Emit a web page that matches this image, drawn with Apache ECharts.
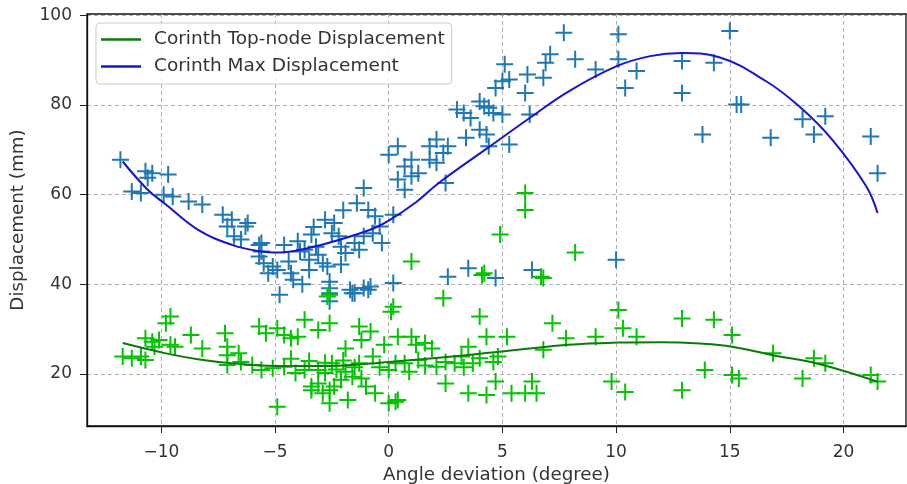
<!DOCTYPE html>
<html>
<head>
<meta charset="utf-8">
<script src="https://cdn.jsdelivr.net/npm/echarts@6.0.0/dist/echarts.min.js"></script>
<style>
  html, body { margin: 0; padding: 0; background: #fff; }
  #chart { width: 907px; height: 484px; }
</style>
</head>
<body>
<div id="chart"></div>
<script>
// tick values on both axes
const xTicks = [-10, -5, 0, 5, 10, 15, 20]
const yTicks = [20, 40, 60, 80, 100]

// Corinth Max Displacement samples (angle deviation, mm)
const maxPoints = [
  [-11.8, 67.8], [-10.7, 65.2], [-10.4, 64.8], [-9.7, 64.5], [-10.6, 63.8], [-11.3, 60.7], [-10.9, 60.4],
  [-9.9, 60.0], [-9.5, 59.6], [-8.8, 58.5], [-8.2, 57.8], [-7.3, 55.5], [-6.9, 54.4], [-7.1, 52.9],
  [-6.2, 53.7], [-6.8, 50.7], [-5.7, 48.8], [-5.6, 47.3], [-6.5, 50.0], [-5.6, 49.2], [-5.7, 46.2],
  [-5.5, 44.7], [-5.1, 44.0], [-4.9, 43.2], [-5.3, 42.5], [-4.8, 37.7], [-4.4, 45.1], [-4.3, 42.5],
  [-4.0, 49.6], [-3.7, 47.7], [-3.5, 45.5], [-3.5, 43.2], [-3.1, 46.6], [-2.9, 44.7], [-2.7, 44.0],
  [-2.6, 40.6], [-2.6, 39.1], [-2.1, 44.4], [-2.8, 54.4], [-2.4, 53.7], [-2.5, 51.4], [-2.2, 50.7],
  [-2.1, 48.4], [-1.9, 47.0], [-1.7, 38.8], [-1.5, 38.0], [-1.1, 39.2], [-0.8, 39.5], [-1.5, 49.2],
  [-1.3, 47.7], [-1.1, 50.7], [-1.4, 58.1], [-1.1, 61.5], [-0.9, 56.6], [-0.6, 55.2], [-0.4, 52.9],
  [-0.3, 49.2], [-0.7, 51.4], [0.2, 40.3], [0.2, 55.5], [0.4, 63.4], [0.7, 61.1], [1.0, 64.1],
  [1.3, 64.8], [-6.3, 52.9], [-3.4, 51.1], [-3.2, 48.4], [-3.9, 47.3], [-2.0, 56.5], [-3.3, 52.8],
  [-4.6, 48.8], [-4.2, 41.0], [-3.8, 40.0], [0.0, 68.9], [0.4, 70.8], [0.7, 66.3], [1.0, 67.8],
  [1.8, 70.8], [2.1, 72.3], [2.4, 69.3], [2.6, 70.8], [1.8, 67.8], [2.1, 67.1], [2.5, 62.6],
  [3.0, 79.0], [3.3, 78.2], [3.6, 77.1], [3.4, 72.7], [4.0, 80.8], [4.2, 79.7], [4.4, 79.4],
  [4.6, 78.2], [4.0, 74.5], [4.3, 73.4], [4.4, 70.8], [5.3, 71.2], [5.0, 77.9], [4.7, 83.8],
  [5.0, 85.3], [5.1, 89.1], [5.3, 85.7], [6.0, 82.7], [6.1, 86.8], [6.2, 77.9], [6.8, 86.1],
  [6.9, 89.4], [7.1, 91.3], [7.7, 96.1], [10.1, 95.8], [15.0, 96.5], [8.2, 90.2], [9.1, 87.9],
  [10.1, 90.2], [10.9, 87.6], [10.4, 83.8], [12.9, 89.8], [12.9, 82.7], [14.3, 89.4], [15.3, 80.1],
  [15.5, 80.1], [13.8, 73.4], [16.8, 72.7], [18.2, 76.8], [19.2, 77.5], [18.7, 73.4], [21.2, 73.0],
  [21.5, 64.8], [2.6, 41.7], [3.5, 43.6], [4.7, 41.4], [6.3, 43.2], [10.0, 45.5], [-1.6, 38.0],
  [-2.6, 38.0], [-2.6, 36.2], [-0.9, 38.8]
]

// Corinth Top-node Displacement samples (angle deviation, mm)
const topPoints = [
  [-11.7, 23.9], [-11.3, 23.5], [-10.9, 23.9], [-10.7, 23.1], [-10.7, 28.0], [-10.4, 27.2], [-10.1, 27.6],
  [-10.3, 26.1], [-9.8, 31.3], [-9.6, 32.8], [-9.6, 26.5], [-9.4, 26.1], [-8.7, 28.7], [-8.2, 25.7],
  [-7.2, 29.1], [-7.1, 26.1], [-7.1, 24.2], [-6.6, 24.6], [-7.1, 22.0], [-6.5, 22.7], [-5.7, 30.6],
  [-5.4, 29.1], [-4.9, 30.2], [-4.6, 28.7], [-4.3, 28.0], [-4.0, 28.3], [-3.7, 32.1], [-3.1, 29.8],
  [-6.0, 22.0], [-5.6, 20.9], [-5.1, 21.3], [-4.9, 12.7], [-4.6, 21.6], [-4.1, 20.2], [-3.7, 20.9],
  [-3.4, 16.4], [-3.1, 17.9], [-2.8, 20.2], [-2.6, 31.3], [-1.3, 30.6], [-0.8, 29.5], [-1.2, 27.6],
  [-0.2, 26.5], [0.4, 28.3], [0.1, 33.9], [1.0, 45.1], [2.4, 36.9], [4.0, 32.8], [4.1, 42.1],
  [4.3, 28.3], [4.9, 51.1], [5.2, 28.3], [6.7, 41.7], [7.2, 31.3], [1.2, 26.5], [1.6, 26.9],
  [1.9, 25.7], [3.5, 26.1], [4.8, 23.9], [6.8, 25.4], [2.5, 17.9], [3.5, 15.7], [4.3, 15.3],
  [4.7, 18.3], [5.4, 15.7], [6.0, 15.7], [6.3, 18.3], [6.5, 15.7], [0.3, 13.8], [0.0, 13.5],
  [0.4, 14.2], [-2.6, 13.5], [-1.8, 14.2], [-3.4, 17.2], [-2.9, 15.7], [-2.4, 17.2], [-2.1, 18.7],
  [-1.6, 19.4], [-1.0, 17.2], [-0.6, 15.7], [-1.3, 22.4], [-0.7, 23.9], [-1.9, 25.7], [-2.5, 22.4],
  [-3.1, 20.9], [0.7, 22.4], [1.3, 23.1], [2.1, 21.6], [2.5, 22.7], [2.9, 22.4], [3.2, 23.9],
  [3.7, 22.4], [4.0, 23.5], [4.6, 22.7], [0.0, 20.9], [0.3, 22.4], [-2.6, 16.4], [-2.3, 21.0],
  [-1.9, 20.5], [-1.5, 21.5], [-2.0, 23.0], [-2.8, 22.5], [-1.2, 19.0], [-0.4, 21.5], [0.9, 20.5],
  [1.6, 21.9], [3.3, 21.5], [-3.5, 22.9], [-4.3, 23.4], [6.0, 60.4], [6.0, 56.6], [4.2, 42.5],
  [6.8, 41.4], [8.2, 47.1], [10.1, 34.3], [10.3, 30.2], [10.9, 28.3], [9.1, 28.3], [7.8, 28.0],
  [12.9, 32.4], [14.3, 32.1], [15.1, 28.7], [16.9, 24.6], [18.7, 23.5], [19.2, 22.4], [21.2, 19.8],
  [21.5, 18.3], [18.2, 19.0], [15.1, 19.8], [15.4, 19.0], [13.9, 20.9], [12.9, 16.4], [9.8, 18.3],
  [10.4, 16.0], [1.0, 28.3], [-2.7, 37.3], [0.2, 35.0], [-2.6, 37.7]
]

// fitted curves
const maxFit = [
  [-11.7, 67.4], [-10.6, 61.1], [-9.8, 57.8], [-8.4, 52.2], [-6.9, 48.8], [-5.7, 47.4], [-4.8, 47.1],
  [-3.7, 47.9], [-2.2, 49.9], [-0.7, 52.4], [0, 54.2], [1.2, 58.3], [2.2, 62.6], [4.4, 70.6],
  [6.2, 77.1], [7.9, 83.0], [10.0, 88.6], [11.5, 90.9], [12.9, 91.6], [14.5, 90.7], [16.6, 85.3],
  [18.05, 79.7], [19.5, 72.3], [21.0, 61.9], [21.5, 55.9]
]
const topFit = [
  [-11.7, 26.9], [-9.8, 24.6], [-8.4, 23.3], [-6.9, 22.4], [-5.0, 21.8], [-2.6, 21.8], [0, 22.7],
  [3.4, 24.2], [7.9, 26.5], [10.0, 27.0], [12.0, 27.1], [13.7, 26.8], [15.1, 26.1], [16.9, 24.2],
  [18.8, 22.4], [21.5, 18.3]
]

const plus = 'path://M7.5,0h2v17h-2z M0,7.5h17v2h-17z'
const font = 'DejaVu Sans'
const minus = (v) => String(v).replace('-', '\u2212')

const chart = echarts.init(document.getElementById('chart'))

const options = {
  animation: false,
  textStyle: { fontFamily: font },
  grid: {
    left: 87,
    right: 1,
    top: 14,
    bottom: 58,
    outerBoundsMode: 'none',
    show: true,
    borderColor: '#111',
    borderWidth: 1.3
  },
  legend: {
    data: [
      { name: 'Corinth Top-node Displacement', icon: 'rect' },
      { name: 'Corinth Max Displacement', icon: 'rect' }
    ],
    orient: 'vertical',
    left: 96,
    top: 23,
    padding: [7, 7, 8, 5],
    itemWidth: 40,
    itemHeight: 2.5,
    itemGap: 8,
    borderColor: '#ccc',
    borderWidth: 1,
    borderRadius: 4,
    backgroundColor: 'rgba(255,255,255,0.8)',
    textStyle: { fontFamily: font, fontSize: 18.5, color: '#333', padding: [0, 0, 0, 8] }
  },
  xAxis: {
    type: 'value',
    min: -13.27,
    max: 22.75,
    name: 'Angle deviation (degree)',
    nameLocation: 'middle',
    nameGap: 33,
    nameTextStyle: { fontFamily: font, fontSize: 18.3, color: '#333' },
    axisLine: { show: true, onZero: false, lineStyle: { color: '#111', width: 1.3 } },
    axisTick: { show: true, length: 7, customValues: xTicks, lineStyle: { color: '#222' } },
    axisLabel: {
      customValues: xTicks,
      margin: 18,
      fontSize: 17,
      color: '#333',
      formatter: minus
    },
    splitLine: { show: true, lineStyle: { color: '#b0b0b0', type: [4, 3], width: 1 } }
  },
  yAxis: {
    type: 'value',
    min: 8.4,
    max: 100.3,
    name: 'Displacement (mm)',
    nameLocation: 'middle',
    nameRotate: 90,
    nameGap: 60,
    nameTextStyle: { fontFamily: font, fontSize: 18.3, color: '#333' },
    axisLine: { show: true, onZero: false, lineStyle: { color: '#111', width: 1.3 } },
    axisTick: { show: true, length: 7, customValues: yTicks, lineStyle: { color: '#222' } },
    axisLabel: { customValues: yTicks, margin: 15, fontSize: 17, color: '#333' },
    splitLine: { show: true, lineStyle: { color: '#b0b0b0', type: [4, 3], width: 1 } }
  },
  series: [
    {
      name: 'max samples',
      type: 'scatter',
      data: maxPoints,
      symbol: plus,
      symbolSize: 17,
      itemStyle: { color: '#1f77b4', opacity: 1 }
    },
    {
      name: 'top samples',
      type: 'scatter',
      data: topPoints,
      symbol: plus,
      symbolSize: 17,
      itemStyle: { color: '#00c400', opacity: 1 }
    },
    {
      name: 'Corinth Top-node Displacement',
      type: 'line',
      data: topFit,
      smooth: 0.4,
      symbol: 'none',
      lineStyle: { color: '#0b7a0b', width: 2 },
      itemStyle: { color: '#0b7a0b' }
    },
    {
      name: 'Corinth Max Displacement',
      type: 'line',
      data: maxFit,
      smooth: 0.4,
      symbol: 'none',
      lineStyle: { color: '#1414d2', width: 2 },
      itemStyle: { color: '#1414d2' }
    }
  ]
}

chart.setOption(options)
</script>
</body>
</html>
